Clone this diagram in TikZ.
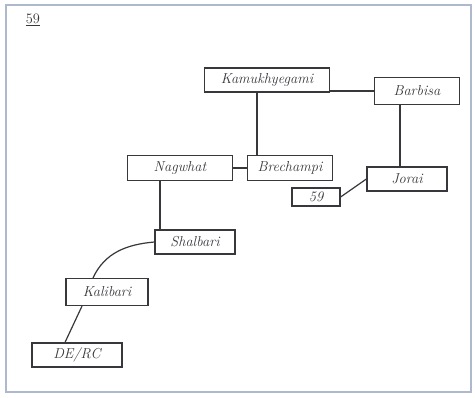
\documentclass[tikz,border=0pt]{standalone}
\usepackage{tikz}
\usetikzlibrary{positioning}

\definecolor{pen}{RGB}{55,55,60}
\definecolor{frame}{RGB}{175,185,205}

\begin{document}
\begin{tikzpicture}[x=1pt,y=-1pt,
	place/.style={draw=pen,line width=1.2pt,text=pen,font=\Large\itshape,inner sep=2pt},
	link/.style={draw=pen,line width=1.2pt}]
\useasboundingbox (0,0) rectangle (475,398);
\draw[frame,line width=2pt] (6,5) rectangle (471,392);
\node [text=pen,font=\Large] (title) at (33,20) {\underline{59}};

\node [place,minimum width=125,minimum height=24] (kamu) at (267,80) {Kamukhyegami};
\node [place,minimum width=85,minimum height=27] (barbisa) at (417,91) {Barbisa};
\node [place,minimum width=105,minimum height=25] (nagwhat) at (180,168) {Nagwhat};
\node [place,minimum width=85,minimum height=25] (brechampi) at (290,168) {Brechampi};
\node [place,minimum width=80,minimum height=24] (jorai) at (407,179) {Jorai};
\node [place,minimum width=48,minimum height=18] (ftn) at (316,197) {59};
\node [place,minimum width=80,minimum height=24] (shalbari) at (195,242) {Shalbari};
\node [place,minimum width=82,minimum height=27] (kalibari) at (107,292) {Kalibari};
\node [place,minimum width=90,minimum height=24] (derc) at (77,355) {DE/RC};

\draw [link] (barbisa.west -| kamu.east) -- (barbisa.west);
\draw [link] ([xshift=-10pt]kamu.south) -- ([xshift=-33pt]brechampi.north);
\draw [link] (nagwhat.east) -- (brechampi.west);
\draw [link] ([xshift=-17pt]barbisa.south) -- ([xshift=-7pt]jorai.north);
\draw [link] (ftn.east) -- (jorai.west);
\draw [link] ([xshift=-20pt]nagwhat.south) -- ([xshift=-35pt]shalbari.north);
\draw [link] (shalbari.west) to[out=185,in=65] ([xshift=-14pt]kalibari.north);
\draw [link] ([xshift=-25pt]kalibari.south) -- ([xshift=-12pt]derc.north);
\end{tikzpicture}
\end{document}
